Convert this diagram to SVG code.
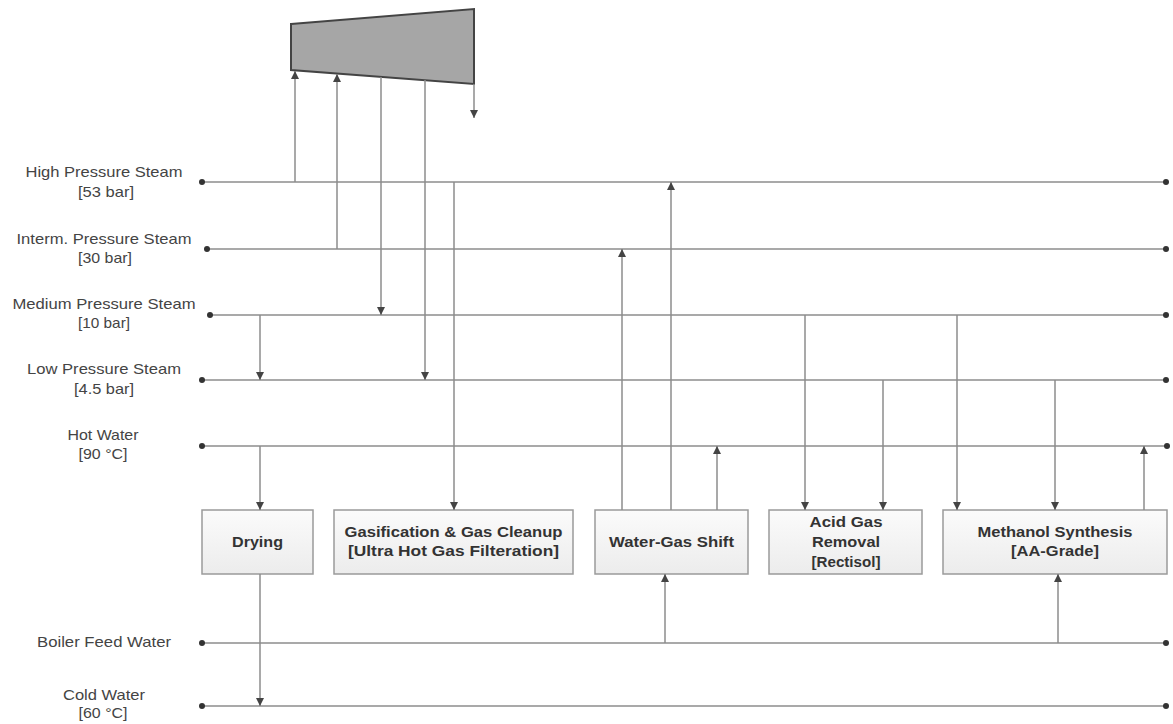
<svg xmlns="http://www.w3.org/2000/svg" width="1173" height="724" viewBox="0 0 1173 724">
  <style>
    .hdr { stroke: #8c8c8c; stroke-width: 1.6; fill: none; }
    .con { stroke: #8c8c8c; stroke-width: 1.5; fill: none; }
    .arr { marker-end: url(#ah); }
    .dot { fill: #333; }
    .lbl { font-family: "Liberation Sans", Arial, sans-serif; font-size: 15px; fill: #444; text-anchor: middle; }
    .box { fill: url(#boxfill); stroke: #9a9a9a; stroke-width: 1.5; }
    .btx { font-family: "Liberation Sans", Arial, sans-serif; font-size: 15px; font-weight: bold; fill: #333; text-anchor: middle; }
  </style>
  <defs>
    <marker id="ah" viewBox="0 0 10 10" refX="10" refY="5" markerWidth="9" markerHeight="8" markerUnits="userSpaceOnUse" orient="auto">
      <path d="M0,0 L10,5 L0,10 Z" fill="#444"/>
    </marker>
    <linearGradient id="boxfill" x1="0" y1="0" x2="0" y2="1">
      <stop offset="0" stop-color="#fbfbfb"/>
      <stop offset="1" stop-color="#ececec"/>
    </linearGradient>
  </defs>
  <rect width="1173" height="724" fill="#fff"/>

  <!-- steam turbine -->
  <g id="turbine">
    <polygon points="291,24 474,9 474,84 291,70" fill="#a6a6a6" stroke="#444" stroke-width="2"/>
  </g>

  <!-- utility headers -->
  <g id="headers">
    <g id="hp">
      <line class="hdr" x1="202" y1="182" x2="1166" y2="182"/>
      <circle class="dot" cx="202" cy="182" r="3"/><circle class="dot" cx="1166" cy="182" r="3"/>
      <text class="lbl" x="104" y="177" textLength="157" lengthAdjust="spacingAndGlyphs">High Pressure Steam</text>
      <text class="lbl" x="106" y="197" textLength="56" lengthAdjust="spacingAndGlyphs">[53 bar]</text>
    </g>
    <g id="ip">
      <line class="hdr" x1="207" y1="249" x2="1166" y2="249"/>
      <circle class="dot" cx="207" cy="249" r="3"/><circle class="dot" cx="1166" cy="249" r="3"/>
      <text class="lbl" x="104" y="244" textLength="175" lengthAdjust="spacingAndGlyphs">Interm. Pressure Steam</text>
      <text class="lbl" x="105" y="263" textLength="54" lengthAdjust="spacingAndGlyphs">[30 bar]</text>
    </g>
    <g id="mp">
      <line class="hdr" x1="210" y1="315" x2="1166" y2="315"/>
      <circle class="dot" cx="210" cy="315" r="3"/><circle class="dot" cx="1166" cy="315" r="3"/>
      <text class="lbl" x="104" y="309" textLength="183" lengthAdjust="spacingAndGlyphs">Medium Pressure Steam</text>
      <text class="lbl" x="104" y="328" textLength="52" lengthAdjust="spacingAndGlyphs">[10 bar]</text>
    </g>
    <g id="lp">
      <line class="hdr" x1="202" y1="380" x2="1166" y2="380"/>
      <circle class="dot" cx="202" cy="380" r="3"/><circle class="dot" cx="1166" cy="380" r="3"/>
      <text class="lbl" x="104" y="374" textLength="154" lengthAdjust="spacingAndGlyphs">Low Pressure Steam</text>
      <text class="lbl" x="104" y="394" textLength="60" lengthAdjust="spacingAndGlyphs">[4.5 bar]</text>
    </g>
    <g id="hw">
      <line class="hdr" x1="202" y1="446" x2="1167" y2="446"/>
      <circle class="dot" cx="202" cy="446" r="3"/><circle class="dot" cx="1167" cy="446" r="3"/>
      <text class="lbl" x="103" y="440" textLength="71" lengthAdjust="spacingAndGlyphs">Hot Water</text>
      <text class="lbl" x="103" y="459" textLength="49" lengthAdjust="spacingAndGlyphs">[90 °C]</text>
    </g>
    <g id="bfw">
      <line class="hdr" x1="202" y1="643" x2="1166" y2="643"/>
      <circle class="dot" cx="202" cy="643" r="3"/><circle class="dot" cx="1166" cy="643" r="3"/>
      <text class="lbl" x="104" y="647" textLength="134" lengthAdjust="spacingAndGlyphs">Boiler Feed Water</text>
    </g>
    <g id="cw">
      <line class="hdr" x1="202" y1="706" x2="1166" y2="706"/>
      <circle class="dot" cx="202" cy="706" r="3"/><circle class="dot" cx="1166" cy="706" r="3"/>
      <text class="lbl" x="104" y="700" textLength="82" lengthAdjust="spacingAndGlyphs">Cold Water</text>
      <text class="lbl" x="103" y="718" textLength="49" lengthAdjust="spacingAndGlyphs">[60 °C]</text>
    </g>
  </g>

  <!-- process units -->
  <g id="drying">
    <rect class="box" x="202" y="510" width="111" height="64"/>
    <text class="btx" x="257.5" y="547" textLength="51" lengthAdjust="spacingAndGlyphs">Drying</text>
  </g>
  <g id="gasification">
    <rect class="box" x="334" y="510" width="239" height="64"/>
    <text class="btx" x="453.5" y="537" textLength="218" lengthAdjust="spacingAndGlyphs">Gasification &amp; Gas Cleanup</text>
    <text class="btx" x="453.5" y="556" textLength="211" lengthAdjust="spacingAndGlyphs">[Ultra Hot Gas Filteration]</text>
  </g>
  <g id="wgs">
    <rect class="box" x="595" y="510" width="153" height="64"/>
    <text class="btx" x="671.5" y="547" textLength="125" lengthAdjust="spacingAndGlyphs">Water-Gas Shift</text>
  </g>
  <g id="agr">
    <rect class="box" x="769" y="510" width="153" height="64"/>
    <text class="btx" x="846" y="527" textLength="73" lengthAdjust="spacingAndGlyphs">Acid Gas</text>
    <text class="btx" x="846" y="547" textLength="68" lengthAdjust="spacingAndGlyphs">Removal</text>
    <text class="btx" x="846" y="567" textLength="69" lengthAdjust="spacingAndGlyphs">[Rectisol]</text>
  </g>
  <g id="methanol">
    <rect class="box" x="943" y="510" width="224" height="64"/>
    <text class="btx" x="1055" y="537" textLength="155" lengthAdjust="spacingAndGlyphs">Methanol Synthesis</text>
    <text class="btx" x="1055" y="556" textLength="88" lengthAdjust="spacingAndGlyphs">[AA-Grade]</text>
  </g>

  <!-- connectors -->
  <g id="connectors">
    <!-- turbine inlets / extractions -->
    <line class="con arr" x1="295" y1="182" x2="295" y2="71"/>
    <line class="con arr" x1="337" y1="249" x2="337" y2="74"/>
    <line class="con arr" x1="381" y1="77" x2="381" y2="315"/>
    <line class="con arr" x1="425" y1="80" x2="425" y2="380"/>
    <line class="con arr" x1="474" y1="84" x2="474" y2="118"/>
    <!-- drying -->
    <line class="con arr" x1="260" y1="315" x2="260" y2="380"/>
    <line class="con arr" x1="260" y1="446" x2="260" y2="510"/>
    <line class="con arr" x1="260" y1="574" x2="260" y2="706"/>
    <!-- gasification -->
    <line class="con arr" x1="454" y1="182" x2="454" y2="510"/>
    <!-- water-gas shift -->
    <line class="con arr" x1="622" y1="510" x2="622" y2="249"/>
    <line class="con arr" x1="671" y1="510" x2="671" y2="182"/>
    <line class="con arr" x1="717" y1="510" x2="717" y2="446"/>
    <line class="con arr" x1="665" y1="643" x2="665" y2="574"/>
    <!-- acid gas removal -->
    <line class="con arr" x1="805" y1="315" x2="805" y2="510"/>
    <line class="con arr" x1="883" y1="380" x2="883" y2="510"/>
    <!-- methanol synthesis -->
    <line class="con arr" x1="957" y1="315" x2="957" y2="510"/>
    <line class="con arr" x1="1055" y1="380" x2="1055" y2="510"/>
    <line class="con arr" x1="1144" y1="510" x2="1144" y2="446"/>
    <line class="con arr" x1="1058" y1="643" x2="1058" y2="574"/>
  </g>
</svg>
